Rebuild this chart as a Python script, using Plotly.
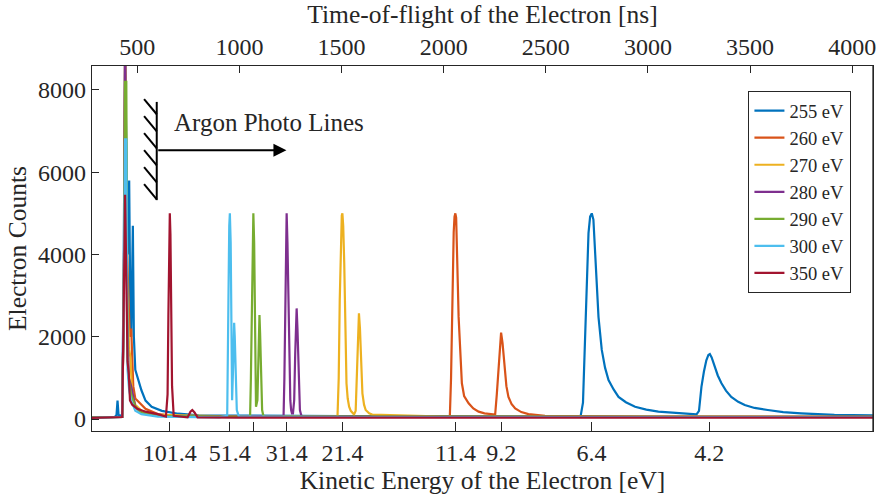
import plotly.graph_objects as go

# ---------------- data ----------------
labels = ["255 eV", "260 eV", "270 eV", "280 eV", "290 eV", "300 eV", "350 eV"]
colors = ["#0072BD", "#D95319", "#EDB120", "#7E2F8E", "#77AC30", "#4DBEEE", "#A2142F"]

t_255 = [278, 390, 398, 403, 408, 425, 432, 440, 452, 460, 465, 470, 478, 483, 490, 505, 520, 540,
         570, 620, 700, 800, 1000, 1500, 2000, 2400, 2670, 2682, 2693, 2702, 2709, 2717, 2725, 2733,
         2742, 2750, 2758, 2774, 2790, 2807, 2832, 2856, 2892, 2937, 2992, 3051, 3148, 3238, 3250,
         3262, 3274, 3286, 3296, 3303, 3312, 3327, 3342, 3360, 3382, 3408, 3442, 3474, 3522, 3587,
         3662, 3750, 3832, 3913, 4000, 4102]
c_255 = [40, 50, 100, 450, 100, 80, 3000, 9000, 4000, 5800, 3000, 2000, 4700, 2000, 1200, 950, 700, 450,
         300, 200, 130, 90, 80, 70, 70, 65, 60, 400, 2090, 3500, 4520, 4920, 5000, 4850,
         4100, 3200, 2480, 1680, 1250, 950, 720, 540, 410, 300, 230, 180, 140, 115, 200,
         785, 1150, 1430, 1560, 1580, 1500, 1270, 1060, 870, 690, 540, 420, 340, 270, 220,
         170, 140, 115, 100, 95, 90]

t_260 = [278, 400, 426, 434, 440, 450, 458, 463, 470, 480, 490, 510, 540, 600, 700, 1000, 1500, 2030,
         2036, 2042, 2049, 2053, 2057, 2061, 2065, 2069, 2073, 2081, 2089, 2100, 2122, 2145, 2171,
         2200, 2236, 2252, 2260, 2268, 2275, 2281, 2288, 2298, 2307, 2317, 2332, 2350, 2380, 2415,
         2496, 3000, 4102]
c_260 = [40, 50, 50, 3000, 9000, 4000, 2650, 2000, 2200, 800, 500, 400, 250, 120, 70, 60, 60, 55,
         1000, 2900, 4540, 4920, 5000, 4900, 4300, 3300, 2490, 1450, 870, 560, 385, 260, 180,
         140, 115, 110, 600, 1270, 1900, 2100, 1850, 1270, 800, 540, 370, 260, 170, 120,
         80, 60, 55]

t_270 = [278, 400, 426, 434, 440, 450, 460, 466, 475, 490, 520, 600, 1000, 1480, 1486, 1491, 1497,
         1501, 1504, 1508, 1513, 1517, 1524, 1530, 1537, 1545, 1553, 1561, 1569, 1574, 1580, 1585,
         1590, 1596, 1602, 1610, 1618, 1635, 1650, 2000, 4102]
c_270 = [40, 50, 50, 3000, 9000, 3000, 1700, 1500, 600, 350, 200, 100, 60, 55, 1000, 2890, 4600,
         4950, 5000, 4700, 3800, 2890, 870, 500, 300, 200, 140, 110, 200, 900, 2100, 2570,
         2200, 1200, 625, 350, 220, 140, 110, 60, 55]

t_280 = [278, 400, 426, 434, 440, 450, 458, 470, 490, 520, 600, 1000, 1216, 1220, 1224, 1228, 1231,
         1235, 1239, 1244, 1249, 1253, 1257, 1262, 1268, 1273, 1277, 1280, 1284, 1289, 1293, 1296,
         1302, 1309, 1600, 4102]
c_280 = [40, 50, 50, 3000, 9500, 2500, 1000, 800, 300, 150, 80, 60, 80, 1000, 2890, 4700, 5000,
         4300, 2890, 1300, 460, 220, 140, 140, 460, 1600, 2500, 2690, 2200, 1270, 600, 220,
         100, 60, 60, 55]

t_290 = [278, 400, 426, 434, 440, 446, 452, 460, 470, 490, 520, 600, 900, 1052, 1056, 1060, 1064,
         1068, 1072, 1075, 1078, 1081, 1088, 1093, 1098, 1101, 1104, 1108, 1111, 1116, 1122, 1600,
         4102]
c_290 = [40, 50, 50, 3000, 8200, 8200, 1500, 900, 600, 300, 150, 80, 60, 55, 1000, 2890, 4700,
         5000, 4300, 2890, 1000, 300, 460, 1700, 2530, 2100, 1270, 550, 220, 100, 60, 60,
         55]

t_300 = [278, 400, 426, 434, 440, 446, 452, 460, 470, 490, 520, 600, 900, 940, 943, 946, 950, 953,
         957, 960, 964, 969, 974, 977, 980, 987, 997, 1600, 4102]
c_300 = [30, 40, 50, 3000, 6800, 6800, 1200, 700, 450, 200, 120, 60, 40, 80, 1000, 2890, 4700, 5000,
         4300, 2890, 460, 1270, 2340, 2000, 1270, 220, 60, 50, 50]

t_350 = [278, 400, 426, 434, 440, 446, 452, 458, 464, 475, 500, 540, 600, 640, 648, 652, 655, 659,
         662, 664, 667, 670, 678, 746, 760, 769, 780, 795, 1000, 2000, 4102]
c_350 = [30, 40, 50, 3000, 5450, 3500, 1400, 1100, 450, 350, 250, 180, 120, 60, 600, 2500, 4000, 5000,
         4500, 3800, 2000, 800, 80, 40, 180, 220, 160, 40, 35, 35, 35]

series_t = [t_255, t_260, t_270, t_280, t_290, t_300, t_350]
series_c = [c_255, c_260, c_270, c_280, c_290, c_300, c_350]

# top axis (time of flight) ticks
tof_ticks = [500, 1000, 1500, 2000, 2500, 3000, 3500, 4000]
# bottom axis: kinetic energy labels at their time-of-flight positions
ke_pos = [659, 953, 1067, 1232, 1504, 2058, 2282, 2724, 3300]
ke_text = ["101.4", "51.4", "", "31.4", "21.4", "11.4", "9.2", "6.4", "4.2"]
y_ticks = [0, 2000, 4000, 6000, 8000]

x_range = [278, 4102]
y_range = [-290, 8583]

FONT = "Liberation Serif"
TXT = "#262626"

fig = go.Figure()
for t, c, lab, col in zip(series_t, series_c, labels, colors):
    fig.add_trace(go.Scatter(x=t, y=c, mode="lines", name=lab,
                             line=dict(color=col, width=2.2)))
# invisible copy on the top (time-of-flight) axis so that axis is drawn
fig.add_trace(go.Scatter(x=t_255, y=c_255, xaxis="x2", yaxis="y", mode="lines",
                         line=dict(width=0, color="rgba(0,0,0,0)"), showlegend=False,
                         hoverinfo="skip"))

# ---------------- "Argon Photo Lines" wall + arrow ----------------
wall_x = 595
wall_y0, wall_y1 = 5322, 7710
fig.add_shape(type="line", xref="x", yref="y", x0=wall_x, x1=wall_x, y0=wall_y0, y1=wall_y1,
              line=dict(color="black", width=2))
hatch_dx, hatch_dy = 62, 370
for k in range(6):
    yk = wall_y1 - 300 - k * (wall_y1 - 300 - wall_y0 - 20) / 5
    fig.add_shape(type="line", xref="x", yref="y", x0=wall_x - hatch_dx, x1=wall_x,
                  y0=yk + hatch_dy, y1=yk, line=dict(color="black", width=2))
fig.add_annotation(x=1230, y=6537, ax=wall_x, ay=6537, xref="x", yref="y", axref="x", ayref="y",
                   showarrow=True, arrowhead=2, arrowsize=1.3, arrowwidth=2, arrowcolor="black", text="")
fig.add_annotation(x=1146, y=7217, xref="x", yref="y", text="Argon Photo Lines", showarrow=False,
                   font=dict(family=FONT, size=25, color=TXT))

axis_common = dict(showline=True, linecolor="#262626", linewidth=1.3, ticks="inside",
                   tickcolor="#262626", tickwidth=1.3, showgrid=False, zeroline=False,
                   tickfont=dict(family=FONT, size=24, color=TXT))

fig.update_layout(
    width=882, height=496,
    margin=dict(l=92, r=6, t=66, b=65),
    paper_bgcolor="white", plot_bgcolor="white",
    showlegend=True,
    legend=dict(x=0.972, y=0.932, xanchor="right", yanchor="top",
                bgcolor="white", bordercolor="#262626", borderwidth=1.3,
                font=dict(family=FONT, size=18.5, color=TXT), itemwidth=30,
                tracegroupgap=0),
    xaxis=dict(range=x_range, tickvals=ke_pos, ticktext=ke_text, ticklen=9, mirror=False,
               title=dict(text="Kinetic Energy of the Electron [eV]", standoff=4,
                          font=dict(family=FONT, size=25.5, color=TXT)),
               **axis_common),
    xaxis2=dict(range=x_range, overlaying="x", side="top", anchor="y", tickvals=tof_ticks,
                ticklen=7,
                title=dict(text="Time-of-flight of the Electron [ns]", standoff=4,
                           font=dict(family=FONT, size=25.5, color=TXT)),
                **axis_common),
    yaxis=dict(range=y_range, tickvals=y_ticks, ticklen=7, mirror=True,
               title=dict(text="Electron Counts", standoff=4,
                          font=dict(family=FONT, size=25.5, color=TXT)),
               **axis_common),
)
# right frame line
fig.add_shape(type="line", xref="paper", yref="paper", x0=1, x1=1, y0=0, y1=1,
              line=dict(color="#262626", width=1.3))

fig.write_html("out.html")
